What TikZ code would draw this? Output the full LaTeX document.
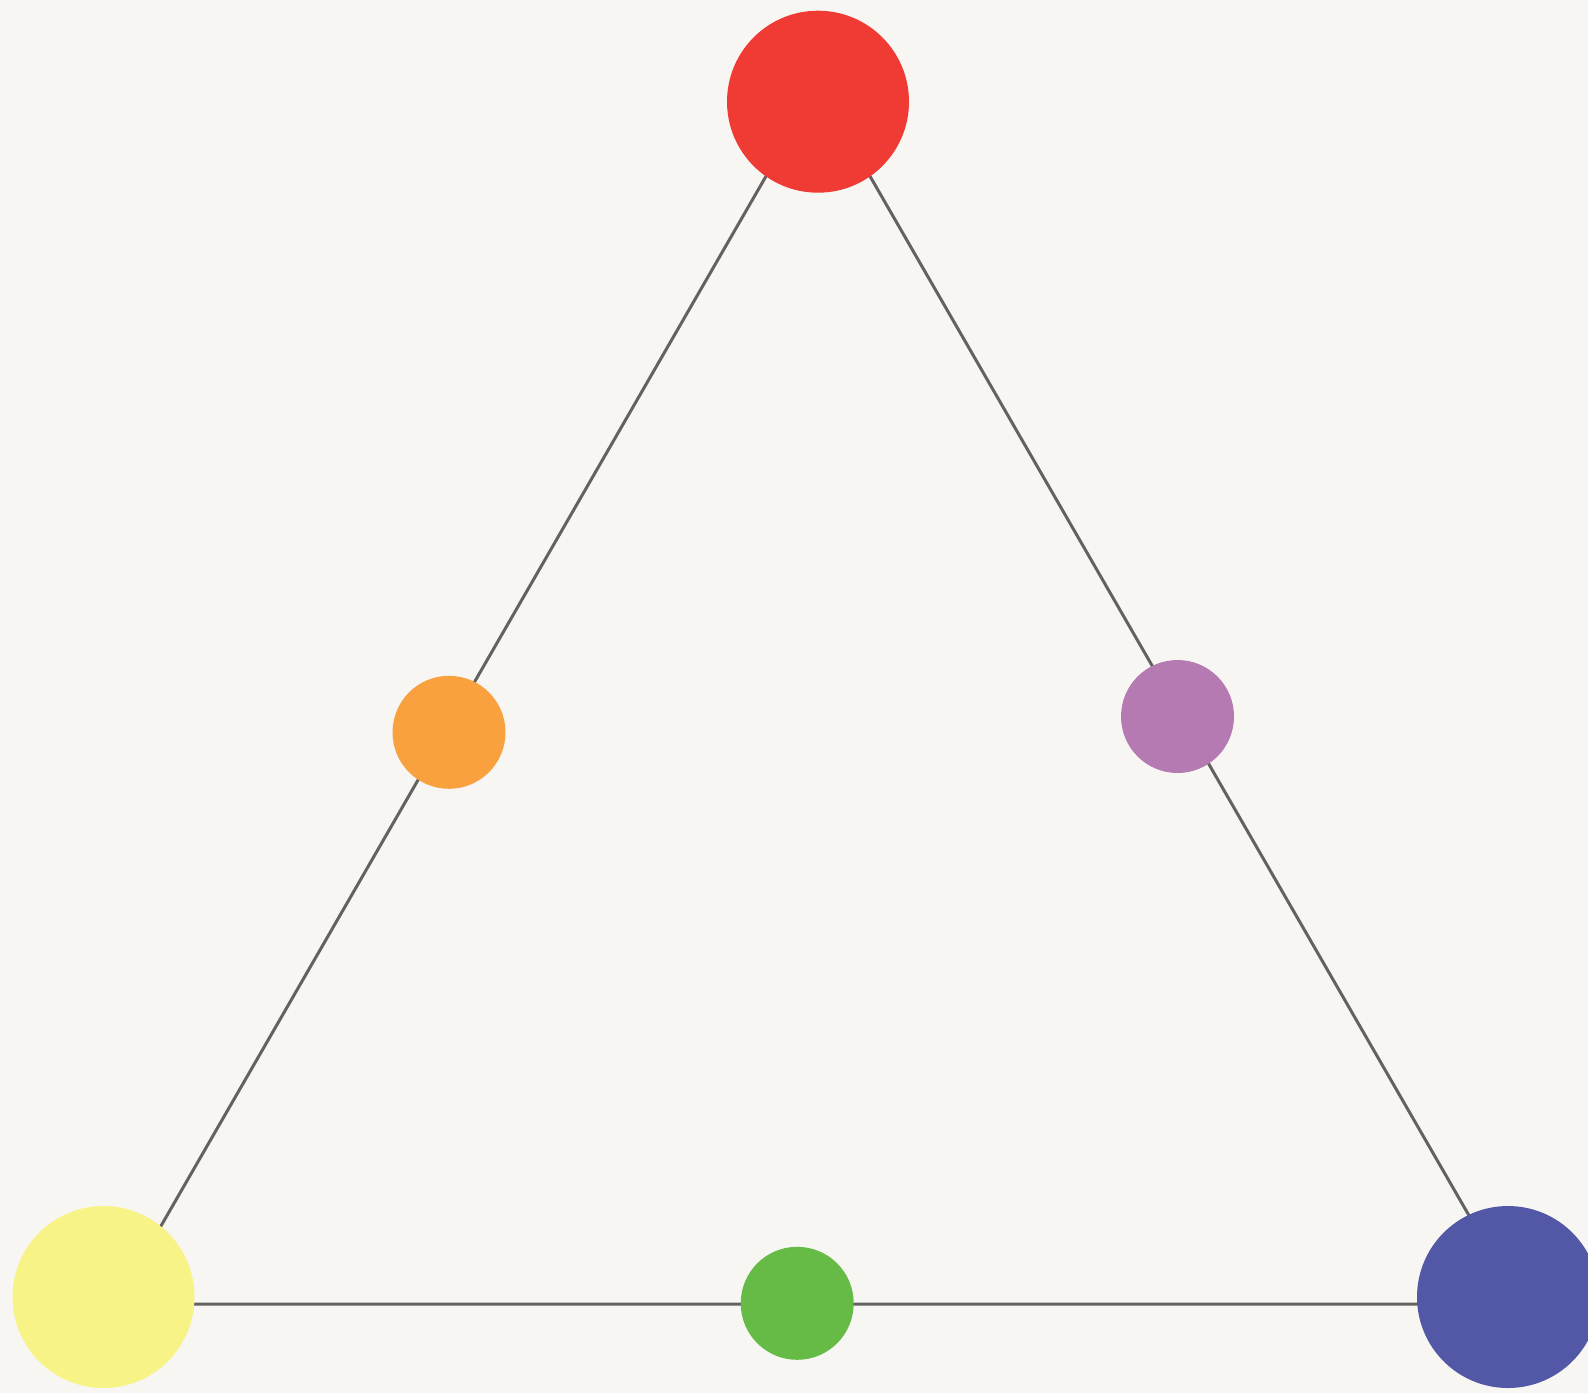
\documentclass[tikz,border=0pt]{standalone}
\usepackage{tikz}
\definecolor{bgpaper}{HTML}{F7F6F3}
\definecolor{edgegrey}{HTML}{646260}
\definecolor{cred}{HTML}{F03B35}
\definecolor{corange}{HTML}{F9A03F}
\definecolor{cyellow}{HTML}{F7F386}
\definecolor{cgreen}{HTML}{66BB46}
\definecolor{cblue}{HTML}{5358A6}
\definecolor{cpurple}{HTML}{B67AB3}
\tikzset{big/.style = {circle, inner sep=0pt, minimum size=182pt},
  small/.style = {circle, inner sep=0pt, minimum size=113pt},
  side/.style = {draw=edgegrey, line width=3pt}}

\begin{document}
\begin{tikzpicture}[x=1pt, y=-1pt]
      \useasboundingbox (0,0) rectangle (1588,1393);
      \clip (0,0) rectangle (1588,1393);
      \fill [bgpaper] (0,0) rectangle (1588,1393);
      % triangle corners
      \coordinate (apex) at (818,86);
      \coordinate (lcorner) at (116,1304);
      \coordinate (rcorner) at (1520,1304);
      \draw [side] (apex) -- (lcorner) -- (rcorner) -- cycle;
      % primaries
      \node [big, fill=cred] (red) at (818,101.7) {};
      \node [big, fill=cyellow] (yellow) at (103.5,1297) {};
      \node [big, fill=cblue] (blue) at (1508,1297) {};
      % secondaries
      \node [small, fill=corange] (orange) at (449,732.3) {};
      \node [small, fill=cpurple] (purple) at (1177.5,716.5) {};
      \node [small, fill=cgreen] (green) at (797.2,1303.3) {};
    \end{tikzpicture}
\end{document}
